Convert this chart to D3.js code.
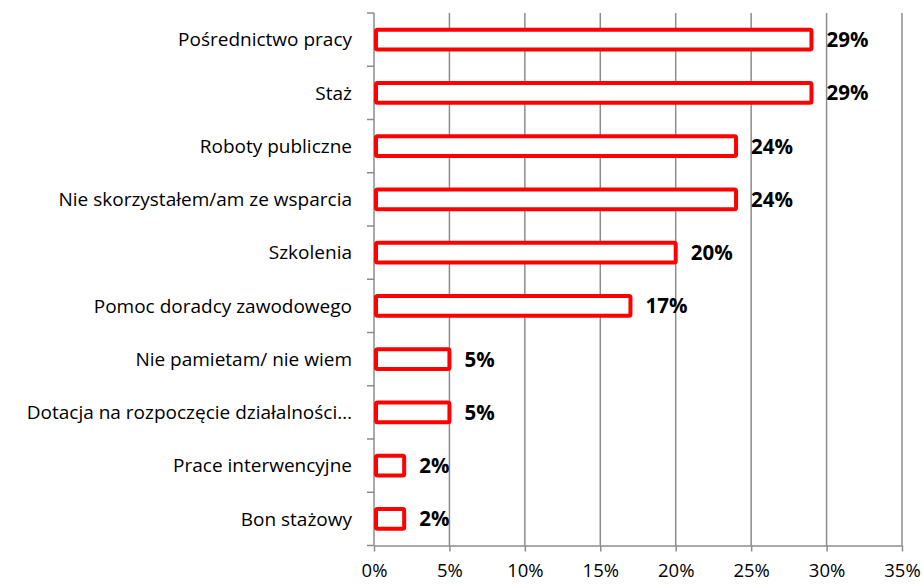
<!DOCTYPE html>
<html>
<head>
<meta charset="utf-8">
<script src="https://cdn.jsdelivr.net/npm/d3@7"></script>
<style>
  body { margin: 0; background: #fff; }
  svg { display: block; font-family: "Open Sans", sans-serif; }
</style>
</head>
<body>
<div id="chart"></div>
<script>
const categories = [
  'Pośrednictwo pracy',
  'Staż',
  'Roboty publiczne',
  'Nie skorzystałem/am ze wsparcia',
  'Szkolenia',
  'Pomoc doradcy zawodowego',
  'Nie pamietam/ nie wiem',
  'Dotacja na rozpoczęcie działalności…',
  'Prace interwencyjne',
  'Bon stażowy',
];
const values = [29, 29, 24, 24, 20, 17, 5, 5, 2, 2];
const xTicks = [0, 5, 10, 15, 20, 25, 30, 35];

const width = 923;
const height = 584;
const margin = { top: 13, right: 21, bottom: 38.5, left: 374 };
const fontFamily = '"Open Sans", sans-serif';

const svg = d3.select('#chart').append('svg')
  .attr('width', width)
  .attr('height', height);

const x = d3.scaleLinear()
  .domain([0, 35])
  .range([margin.left, width - margin.right]);

const y = d3.scaleBand()
  .domain(categories)
  .range([margin.top, height - margin.bottom])
  .paddingInner(0.55)
  .paddingOuter(0.275);

// gridlines
svg.append('g')
  .selectAll('line')
  .data(xTicks.slice(1))
  .enter().append('line')
  .attr('x1', d => x(d))
  .attr('x2', d => x(d))
  .attr('y1', margin.top)
  .attr('y2', height - margin.bottom)
  .attr('stroke', '#8c8c8c')
  .attr('stroke-width', 1.5);

// x axis
const xAxis = svg.append('g')
  .attr('transform', `translate(0,${height - margin.bottom})`)
  .call(d3.axisBottom(x).tickValues(xTicks).tickFormat(d => `${d}%`).tickSize(6).tickSizeOuter(0));
xAxis.select('.domain').attr('stroke', '#8c8c8c').attr('stroke-width', 1.5);
xAxis.selectAll('.tick line').attr('stroke', '#8c8c8c').attr('stroke-width', 1.5);
xAxis.selectAll('.tick text')
  .attr('y', 18)
  .attr('font-size', 18.5)
  .attr('font-family', fontFamily)
  .attr('fill', '#000');

// y axis (band boundaries as ticks)
const bandStep = y.step();
const yAxisG = svg.append('g');
yAxisG.append('line')
  .attr('x1', margin.left).attr('x2', margin.left)
  .attr('y1', margin.top).attr('y2', height - margin.bottom)
  .attr('stroke', '#8c8c8c').attr('stroke-width', 1.5);
yAxisG.selectAll('.ytick')
  .data(d3.range(categories.length + 1))
  .enter().append('line')
  .attr('x1', margin.left - 7).attr('x2', margin.left)
  .attr('y1', i => margin.top + i * bandStep)
  .attr('y2', i => margin.top + i * bandStep)
  .attr('stroke', '#8c8c8c').attr('stroke-width', 1.5);

yAxisG.selectAll('.ylabel')
  .data(categories)
  .enter().append('text')
  .attr('x', margin.left - 22)
  .attr('y', d => y(d) + y.bandwidth() / 2)
  .attr('dy', '0.35em')
  .attr('text-anchor', 'end')
  .attr('font-size', 19)
  .attr('fill', '#000')
  .text(d => d);

// bars
const rows = categories.map((c, i) => ({ cat: c, value: values[i] }));
svg.append('g')
  .selectAll('rect')
  .data(rows)
  .enter().append('rect')
  .attr('x', x(0) + 2)
  .attr('y', d => y(d.cat) + 2)
  .attr('width', d => x(d.value) - x(0) - 2)
  .attr('height', y.bandwidth() - 4)
  .attr('fill', '#fff')
  .attr('stroke', '#ff0000')
  .attr('stroke-width', 4)
  .attr('rx', 1.5);

// value labels
svg.append('g')
  .selectAll('text')
  .data(rows)
  .enter().append('text')
  .attr('x', d => x(d.value) + 15)
  .attr('y', d => y(d.cat) + y.bandwidth() / 2)
  .attr('dy', '0.36em')
  .attr('font-size', 20.5)
  .attr('font-weight', 'bold')
  .attr('fill', '#000')
  .text(d => `${d.value}%`);
</script>
</body>
</html>
